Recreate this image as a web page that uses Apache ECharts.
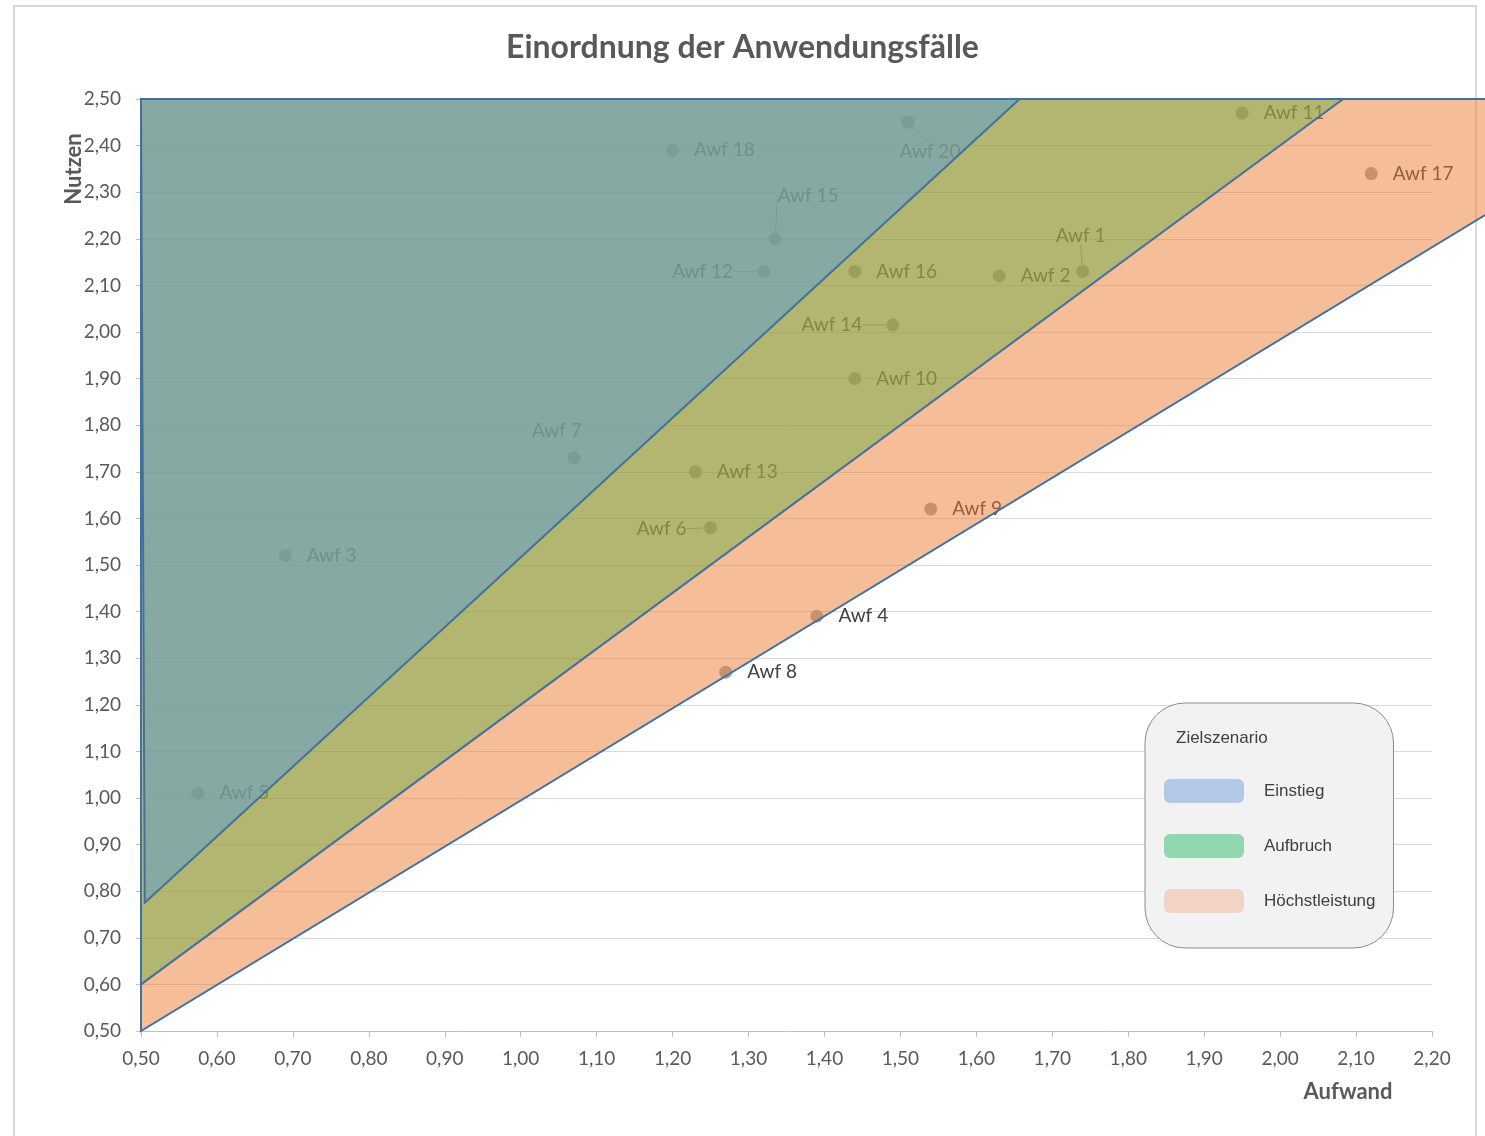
<!DOCTYPE html>
<html>
<head>
<meta charset="utf-8">
<title>Einordnung der Anwendungsfälle</title>
<script src="https://cdn.jsdelivr.net/npm/echarts@6/dist/echarts.min.js"></script>
<style>
  html, body { margin: 0; padding: 0; background: #fff; }
  #chart { width: 1485px; height: 1136px; }
</style>
</head>
<body>
<div id="chart"></div>
<script>
// Anwendungsfälle: Aufwand (x) / Nutzen (y)
const names  = ['Awf 1', 'Awf 2', 'Awf 3', 'Awf 4', 'Awf 5', 'Awf 6', 'Awf 7', 'Awf 8', 'Awf 9', 'Awf 10',
                'Awf 11', 'Awf 12', 'Awf 13', 'Awf 14', 'Awf 15', 'Awf 16', 'Awf 17', 'Awf 18', 'Awf 20'];
const aufwand = [1.74, 1.63, 0.69, 1.39, 0.575, 1.25, 1.07, 1.27, 1.54, 1.44,
                 1.95, 1.32, 1.23, 1.49, 1.335, 1.44, 2.12, 1.20, 1.51];
const nutzen  = [2.13, 2.12, 1.52, 1.39, 1.01, 1.58, 1.73, 1.27, 1.62, 1.90,
                 2.47, 2.13, 1.70, 2.015, 2.20, 2.13, 2.34, 2.39, 2.45];

// Zielszenario-Flächen (Eckpunkte in Achsenwerten)
const hoechstleistungArea = [[0.5, 2.5], [2.35, 2.5], [2.35, 2.33], [0.5, 0.5]];
const aufbruchArea        = [[0.5, 2.5], [2.083, 2.5], [0.5, 0.6]];
const einstiegArea        = [[0.5, 2.5], [1.657, 2.5], [0.505, 0.775]];

// Beschriftungen, die nicht rechts vom Punkt stehen (Versatz in px)
const labelOffsets = {
  'Awf 20': [22, 30],
  'Awf 15': [33, -43],
  'Awf 12': [-61, 0],
  'Awf 14': [-61, 0],
  'Awf 1':  [-2, -36],
  'Awf 6':  [-49, 1],
  'Awf 7':  [-17, -27]
};
const withLeader = ['Awf 20', 'Awf 15', 'Awf 12', 'Awf 14', 'Awf 1', 'Awf 6'];

const fmt = v => v.toFixed(2).replace('.', ',');

function areaSeries(name, verts, fill) {
  return {
    name: name,
    type: 'custom',
    z: 3,
    clip: false,
    silent: true,
    data: verts,
    encode: { x: 0, y: 1 },
    renderItem: function (params, api) {
      if (params.dataIndex !== 0) return;
      const pts = verts.map(v => api.coord(v));
      return {
        type: 'polygon',
        shape: { points: pts },
        style: { fill: fill, stroke: '#41719C', lineWidth: 2 }
      };
    }
  };
}

const chart = echarts.init(document.getElementById('chart'));

chart.setOption({
  animation: false,
  backgroundColor: '#fff',
  title: [{
    text: 'Einordnung der Anwendungsfälle',
    left: 'center',
    top: 27,
    textStyle: { fontFamily: 'Lato', fontWeight: 'bold', fontSize: 32, color: '#595959' }
  }, {
    text: 'Zielszenario',
    left: 1171,
    top: 725,
    textStyle: { fontFamily: 'Liberation Sans', fontWeight: 'normal', fontSize: 17, color: '#404040' }
  }],
  graphic: [
    { type: 'rect', z: -1, silent: true, shape: { x: 14, y: 6, width: 1462, height: 1200 },
      style: { fill: 'none', stroke: '#D9D9D9', lineWidth: 2 } },
    { type: 'text', x: 74, y: 169, rotation: Math.PI / 2, silent: true,
      style: { text: 'Nutzen', align: 'center', verticalAlign: 'middle', fontFamily: 'Lato',
               fontWeight: 'bold', fontSize: 22, fill: '#595959' } },
    { type: 'text', x: 1348, y: 1092, silent: true,
      style: { text: 'Aufwand', align: 'center', verticalAlign: 'middle', fontFamily: 'Lato',
               fontWeight: 'bold', fontSize: 22, fill: '#595959' } }
  ],
  legend: {
    left: 1145,
    top: 703,
    orient: 'vertical',
    padding: [76, 18, 35, 19],
    itemWidth: 80,
    itemHeight: 24,
    itemGap: 31,
    icon: 'roundRect',
    selectedMode: false,
    backgroundColor: '#F2F2F2',
    borderColor: '#8C8C8C',
    borderWidth: 1,
    borderRadius: 40,
    textStyle: { fontFamily: 'Liberation Sans', fontSize: 17, color: '#404040', padding: [0, 0, 0, 15] },
    data: [
      { name: 'Einstieg', itemStyle: { color: '#B4C8E8', borderWidth: 0, opacity: 1 } },
      { name: 'Aufbruch', itemStyle: { color: '#90D6AE', borderWidth: 0, opacity: 1 } },
      { name: 'Höchstleistung', itemStyle: { color: '#F2D4C6', borderWidth: 0, opacity: 1 } }
    ]
  },
  grid: { left: 141, right: 53, top: 99, bottom: 105 },
  xAxis: {
    type: 'value',
    min: 0.5,
    max: 2.2,
    interval: 0.1,
    axisLine: { lineStyle: { color: '#BFBFBF', width: 1 } },
    axisTick: { show: true, length: 6, lineStyle: { color: '#BFBFBF' } },
    splitLine: { show: false },
    axisLabel: { formatter: fmt, margin: 18, fontFamily: 'Lato', fontSize: 19, color: '#595959' }
  },
  yAxis: {
    type: 'value',
    min: 0.5,
    max: 2.5,
    interval: 0.1,
    axisLine: { show: true, lineStyle: { color: '#BFBFBF', width: 1 } },
    axisTick: { show: true, length: 5, lineStyle: { color: '#BFBFBF' } },
    splitLine: { show: true, lineStyle: { color: '#D9D9D9', width: 1 } },
    axisLabel: { formatter: fmt, margin: 20, fontFamily: 'Lato', fontSize: 19, color: '#595959' }
  },
  series: [
    {
      name: 'Anwendungsfälle',
      type: 'scatter',
      z: 2,
      silent: true,
      symbolSize: 13,
      itemStyle: { color: '#A5A5A5', opacity: 1 },
      label: {
        show: true,
        position: 'right',
        distance: 15,
        formatter: p => p.name,
        fontFamily: 'Lato',
        fontSize: 19,
        color: '#404040'
      },
      labelLine: { show: false, length2: 0, lineStyle: { color: '#9A9A9A', width: 1 } },
      labelLayout: function (p) {
        const off = labelOffsets[names[p.dataIndex]];
        if (!off) return {};
        return {
          x: p.rect.x + p.rect.width / 2 + off[0],
          y: p.rect.y + p.rect.height / 2 + off[1],
          align: 'center',
          verticalAlign: 'middle'
        };
      },
      data: names.map((n, i) => ({
        name: n,
        value: [aufwand[i], nutzen[i]],
        labelLine: { show: withLeader.indexOf(n) >= 0 }
      }))
    },
    areaSeries('Höchstleistung', hoechstleistungArea, 'rgba(237,125,49,0.5)'),
    areaSeries('Aufbruch', aufbruchArea, 'rgba(112,173,71,0.5)'),
    areaSeries('Einstieg', einstiegArea, 'rgba(91,155,213,0.5)')
  ]
});

window.addEventListener('resize', function () { chart.resize(); });
</script>
</body>
</html>
